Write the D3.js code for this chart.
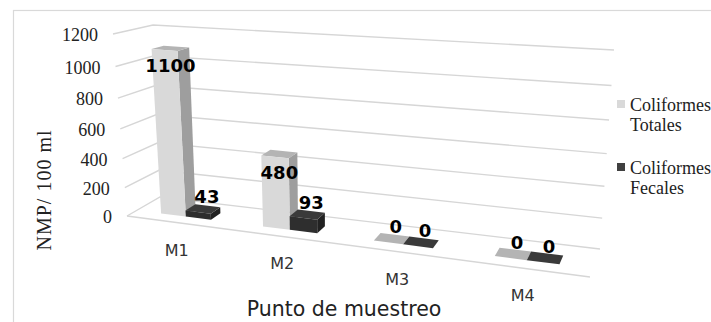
<!DOCTYPE html>
<html>
<head>
<meta charset="utf-8">
<script src="https://cdn.jsdelivr.net/npm/d3@7"></script>
<style>
html,body{margin:0;padding:0;background:#fff;}
svg{display:block;}
</style>
</head>
<body>
<svg id="chart" width="711" height="322"></svg>
<script>
// ---- data ----
const categories = ["M1", "M2", "M3", "M4"];
const seriesNames = ["Coliformes Totales", "Coliformes Fecales"];
const totales = [1100, 480, 0, 0];
const fecales = [43, 93, 0, 0];
const yTicks = [0, 200, 400, 600, 800, 1000, 1200];
const yMax = 1200;
const legendLines = [["Coliformes", "Totales"], ["Coliformes", "Fecales"]];
const xTitle = "Punto de muestreo";
const yTitle = "NMP/ 100 ml";

// ---- style ----
const colors = [
  {front: "#d9d9d9", side: "#9e9e9e", top: "#b4b4b4", legend: "#d9d9d9"},
  {front: "#2e2e2e", side: "#222222", top: "#3a3a3a", legend: "#404040"}
];
const grid = "#d6d6d6";

// ---- 3D box projection (screen corners of the plot box) ----
const FBL = [127, 216], FTL = [113, 34], BBL = [160, 197], BTL = [153, 25];
const FBR = [590, 277], FTR = [605, 66], BBR = [600, 249], BTR = [614, 50];
const cu = 0.159, cv = 0.08;
const fu = u => u * (1 - cu) / (1 - cu * u);
const gv = v => v * (1 - cv) / (1 - cv * v);
const lerp = (p, q, t) => [p[0] + (q[0] - p[0]) * t, p[1] + (q[1] - p[1]) * t];
function proj(u, v, w) {
  const a = fu(u), b = gv(v);
  const L0 = lerp(FBL, BBL, w), L1 = lerp(FTL, BTL, w);
  const R0 = lerp(FBR, BBR, w), R1 = lerp(FTR, BTR, w);
  const L = lerp(L0, L1, b), R = lerp(R0, R1, b);
  return lerp(L, R, a);
}

// ---- scales ----
const xBand = d3.scaleBand().domain(categories).range([0, 1]).padding(0);
const xSeries = d3.scaleBand().domain(seriesNames).range([0, xBand.bandwidth()])
  .paddingInner(0).paddingOuter(1);
const y = d3.scaleLinear().domain([0, yMax]).range([0, 1]);
const wFront = 0.3, wBack = 0.62;

const svg = d3.select("#chart");

// chart border
svg.append("rect").attr("x", 13.5).attr("y", 10.5).attr("width", 720).attr("height", 340)
  .attr("fill", "none").attr("stroke", "#d9d9d9").attr("stroke-width", 1.2);

const line = d3.line();
const gGrid = svg.append("g").attr("fill", "none").attr("stroke", grid).attr("stroke-width", 1.4);
yTicks.forEach(t => {
  const v = y(t);
  gGrid.append("path").attr("d", line([proj(0, v, 0), proj(0, v, 1), proj(1, v, 1)]));
});
// floor front edge
gGrid.append("path").attr("d", line([proj(0, 0, 0), proj(1, 0, 0)]));

// y tick labels
svg.append("g").selectAll("text").data(yTicks).join("text")
  .attr("x", d => proj(0, y(d), 0)[0] - 15)
  .attr("y", d => proj(0, y(d), 0)[1] + 7)
  .attr("text-anchor", "end")
  .attr("font-family", "'Liberation Serif', 'Times New Roman', serif")
  .attr("font-size", 18).attr("fill", "#222")
  .text(d => d);

// bars
const seriesValues = [totales, fecales];
const gBars = svg.append("g");
categories.forEach((cat, j) => {
  seriesNames.forEach((s, i) => {
    const val = seriesValues[i][j];
    const u0 = xBand(cat) + xSeries(s), u1 = u0 + xSeries.bandwidth();
    const v0 = 0, v1 = y(val);
    const P = (u, v, w) => proj(u, v, w);
    const poly = pts => "M" + pts.map(p => p.join(",")).join("L") + "Z";
    // right side face
    if (val > 0) {
      gBars.append("path").attr("d", poly([P(u1, v0, wFront), P(u1, v0, wBack), P(u1, v1, wBack), P(u1, v1, wFront)]))
        .attr("fill", colors[i].side);
    }
    // top face
    gBars.append("path").attr("d", poly([P(u0, v1, wFront), P(u1, v1, wFront), P(u1, v1, wBack), P(u0, v1, wBack)]))
      .attr("fill", colors[i].top);
    // front face
    if (val > 0) {
      gBars.append("path").attr("d", poly([P(u0, v0, wFront), P(u1, v0, wFront), P(u1, v1, wFront), P(u0, v1, wFront)]))
        .attr("fill", colors[i].front);
    }
  });
});

// data labels
const gLab = svg.append("g");
categories.forEach((cat, j) => {
  seriesNames.forEach((s, i) => {
    const val = seriesValues[i][j];
    const uc = xBand(cat) + xSeries(s) + xSeries.bandwidth() / 2;
    const pm = proj(uc, y(val), (wFront + wBack) / 2);
    const pf = proj(uc, y(val), wFront);
    gLab.append("text")
      .attr("x", pm[0] + (val > 200 ? 0 : 4))
      .attr("y", pf[1] + (val > 200 ? 22 : -9))
      .attr("text-anchor", "middle")
      .attr("font-family", "'DejaVu Sans', Verdana, sans-serif")
      .attr("font-weight", "bold").attr("font-size", 18).attr("fill", "#000")
      .text(val);
  });
});

// category labels
svg.append("g").selectAll("text").data(categories).join("text")
  .attr("x", d => proj(xBand(d) + xBand.bandwidth() / 2, 0, 0)[0])
  .attr("y", d => proj(xBand(d) + xBand.bandwidth() / 2, 0, 0)[1] + 33)
  .attr("text-anchor", "middle")
  .attr("font-family", "'DejaVu Sans', Verdana, sans-serif")
  .attr("font-size", 16).attr("fill", "#333")
  .text(d => d);

// x title
svg.append("text").attr("x", 344).attr("y", 316).attr("text-anchor", "middle")
  .attr("font-family", "'DejaVu Sans', Verdana, sans-serif")
  .attr("font-size", 20.5).attr("fill", "#222").text(xTitle);

// y title
svg.append("text").attr("transform", "translate(51,190) rotate(-90)")
  .attr("text-anchor", "middle")
  .attr("font-family", "'Liberation Serif', 'Times New Roman', serif")
  .attr("font-size", 20).attr("letter-spacing", 1).attr("fill", "#222").text(yTitle);

// legend
const legY = [100, 163];
seriesNames.forEach((s, i) => {
  const g = svg.append("g");
  g.append("rect").attr("x", 617).attr("y", legY[i]).attr("width", 8).attr("height", 8)
    .attr("fill", colors[i].legend);
  g.append("text").attr("x", 630)
    .attr("font-family", "'Liberation Serif', 'Times New Roman', serif")
    .attr("font-size", 18).attr("fill", "#222")
    .selectAll("tspan").data(legendLines[i]).join("tspan")
    .attr("x", 630).attr("y", (d, k) => legY[i] + 11 + k * 20).text(d => d);
});
</script>
</body>
</html>
